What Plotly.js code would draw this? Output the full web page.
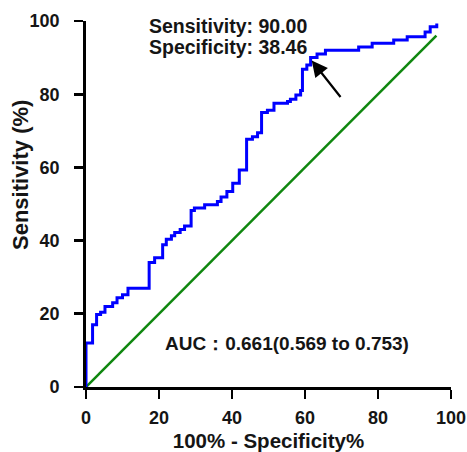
<!DOCTYPE html>
<html>
<head>
<meta charset="utf-8">
<script src="https://cdn.plot.ly/plotly-3.0.1.min.js"></script>
<style>html,body{margin:0;padding:0;background:#fff;}#chart{width:467px;height:452px;}</style>
</head>
<body>
<div id="chart"></div>
<script>
// ROC curve step points (100% - Specificity%, Sensitivity%)
const rocX = [0, 0, 1.8, 2.9, 4.0, 5.2, 7.3, 8.5, 10.0, 11.5, 17.3, 18.8, 21.0, 22.0, 23.4, 24.3, 25.8, 27.0, 28.8, 29.7, 32.5, 36.0, 37.0, 38.6, 40.2, 42.0, 44.0, 45.6, 47.0, 48.1, 49.7, 51.5, 55.2, 56.0, 57.5, 58.8, 59.3, 60.5, 61.54, 63.3, 65.6, 74.7, 78.4, 84.3, 88.0, 92.9, 94.3, 96.1];
const rocY = [0, 12, 17, 19.8, 20.4, 22, 23, 24.4, 25.2, 27, 34, 35.3, 38.9, 40.4, 41.3, 42.2, 43, 44, 48.2, 48.9, 49.8, 50.7, 51.9, 53.4, 55.7, 59.3, 67.7, 68.4, 69.5, 75, 75.6, 77.5, 78, 78.6, 79.8, 81, 86.8, 88, 90, 91, 92, 92.9, 93.9, 94.8, 95.7, 97, 98.4, 99.3];
// Reference line
const refX = [0, 96];
const refY = [0, 96];
const tickVals = [0, 20, 40, 60, 80, 100];
const cutX = 61.54, cutY = 90.00;
const sensText = "Sensitivity: 90.00";
const specText = "Specificity: 38.46";
const aucText = "AUC：0.661(0.569 to 0.753)";
const xTitle = "100% - Specificity%";
const yTitle = "Sensitivity (%)";

const F = "Liberation Sans, Arial, Helvetica, sans-serif";
const C = '#151515';
const data = [
  {x: refX, y: refY, mode: 'lines', line: {color: '#0f870f', width: 2.5}, hoverinfo: 'skip'},
  {x: rocX, y: rocY, mode: 'lines', line: {color: '#0000ff', width: 3, shape: 'hv'}, hoverinfo: 'skip'}
];
const axisCommon = {
  range: [0, 100], tickvals: tickVals, ticks: 'outside', ticklen: 9, tickwidth: 2.8, tickcolor: '#000',
  showline: true, linecolor: '#000', linewidth: 2.8, showgrid: false, zeroline: false,
  ticklabeloverflow: 'allow', ticklabelstandoff: 4,
  tickfont: {family: F, size: 18, color: C, weight: 'bold'}
};
const layout = {
  width: 467, height: 452,
  margin: {l: 86, r: 16, t: 21, b: 65},
  paper_bgcolor: '#fff', plot_bgcolor: '#fff',
  showlegend: false,
  xaxis: Object.assign({}, axisCommon, {title: {text: xTitle, font: {family: F, size: 20.5, color: C, weight: 'bold'}, standoff: 12}}),
  yaxis: Object.assign({}, axisCommon, {ticklabelstandoff: 11}),
  annotations: [
    {x: (20 - 86) / 365, y: (387 - 175) / 366, xref: 'paper', yref: 'paper', text: yTitle, textangle: -90, showarrow: false, xanchor: 'center', yanchor: 'middle', font: {family: F, size: 22, color: C, weight: 'bold'}},
    {x: 16.6, y: 98.7, xref: 'x', yref: 'y', text: sensText, showarrow: false, xanchor: 'left', yanchor: 'middle', font: {family: F, size: 19.5, color: C, weight: 'bold'}},
    {x: 16.6, y: 93.0, xref: 'x', yref: 'y', text: specText, showarrow: false, xanchor: 'left', yanchor: 'middle', font: {family: F, size: 19.5, color: C, weight: 'bold'}},
    {x: 21.2, y: 11.8, xref: 'x', yref: 'y', text: aucText, showarrow: false, xanchor: 'left', yanchor: 'middle', font: {family: F, size: 19, color: C, weight: 'bold'}},
    {x: cutX + 0.3, y: cutY - 0.8, xref: 'x', yref: 'y', text: '', showarrow: true, arrowhead: 2, arrowsize: 1.45, arrowwidth: 2.2, arrowcolor: '#000', ax: 30, ay: 38, standoff: 0}
  ]
};
Plotly.newPlot('chart', data, layout, {staticPlot: true, displayModeBar: false});
</script>
</body>
</html>
